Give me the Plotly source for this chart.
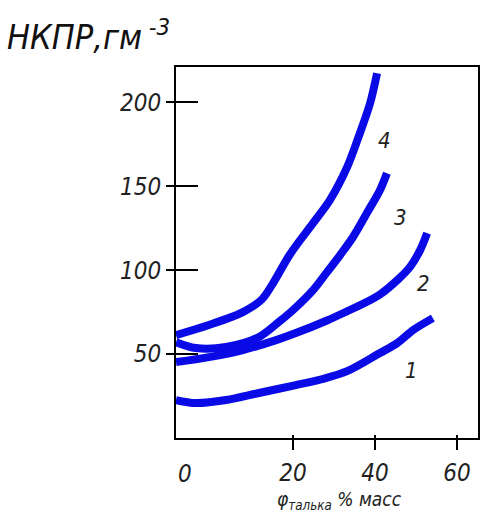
import plotly.graph_objects as go

# Curve data (x = φ талька, % масс ; y = НКПР, г/м3)
c1_x = [-8.5, -3.7, 3.7, 11.7, 20.7, 27.0, 33.2, 41.2, 45.4, 49.3, 54.1]
c1_y = [22.6, 20.8, 22.6, 26.8, 31.5, 35.0, 39.8, 50.6, 56.5, 64.3, 71.4]

c2_x = [-8.5, -0.5, 7.8, 15.9, 20.7, 28.3, 33.2, 38.8, 41.2, 45.4, 48.5, 51.0, 52.7]
c2_y = [45.2, 48.2, 52.4, 58.3, 62.5, 70.0, 75.5, 82.1, 85.5, 94.0, 101.8, 111.9, 122.0]

c3_x = [-8.5, -3.7, 3.7, 11.7, 16.8, 20.0, 24.9, 28.3, 31.5, 34.6, 38.0, 41.2, 42.9]
c3_y = [57.1, 53.6, 54.2, 60.1, 69.6, 76.2, 88.1, 98.8, 109.0, 119.6, 133.9, 147.6, 157.7]

c4_x = [-8.5, -0.5, 7.8, 12.4, 15.1, 19.3, 24.9, 29.0, 33.2, 36.3, 38.8, 40.5]
c4_y = [61.3, 67.3, 75.0, 82.5, 92.0, 109.5, 128.0, 141.7, 161.3, 181.5, 199.4, 217.3]

curve_names = ["1", "2", "3", "4"]
label_x = [49.0, 51.7, 46.1, 42.4]
label_y = [40.5, 92.3, 131.5, 177.0]

x_ticks = [20, 40, 60]
y_ticks = [50, 100, 150, 200]

X_RANGE = [-8.5, 65.1]
Y_RANGE = [0, 221]

FONT = "DejaVu Sans Condensed, DejaVu Sans, sans-serif"
BLUE = "#0a0ae6"

fig = go.Figure()
for xs, ys, name in zip([c1_x, c2_x, c3_x, c4_x], [c1_y, c2_y, c3_y, c4_y], curve_names):
    fig.add_trace(go.Scatter(x=xs, y=ys, mode="lines", name=name,
                             line=dict(color=BLUE, width=8, shape="spline", smoothing=0.9),
                             showlegend=False, hoverinfo="skip"))

# invisible trace for secondary axes
fig.add_trace(go.Scatter(x=[X_RANGE[0]], y=[Y_RANGE[0]], xaxis="x2", yaxis="y2",
                         mode="markers", marker=dict(opacity=0), showlegend=False,
                         hoverinfo="skip"))

for t, lx, ly in zip(curve_names, label_x, label_y):
    fig.add_annotation(x=lx, y=ly, text=t, showarrow=False,
                       font=dict(family=FONT, size=22, color="#222", style="italic"))

# "0" label at the axis origin
fig.add_annotation(x=0, y=0, xref="paper", yref="paper", text="0", showarrow=False,
                   xanchor="left", yanchor="top", yshift=-20,
                   font=dict(family=FONT, size=24, color="#222", style="italic"))

# x-axis title
fig.add_annotation(x=0.543, y=0, xref="paper", yref="paper",
                   text="φ<sub>талька</sub> % масс", showarrow=False,
                   xanchor="center", yanchor="middle", yshift=-62,
                   font=dict(family=FONT, size=19, color="#222", style="italic"))

fig.update_layout(
    width=481, height=517,
    margin=dict(l=176, r=3, t=67, b=79, autoexpand=False),
    paper_bgcolor="white", plot_bgcolor="white",
    title=dict(text="НКПР,гм<sup> -3</sup>", x=7/481, xanchor="left",
               y=1-37/517, yanchor="middle", yref="container",
               font=dict(family=FONT, size=34, color="#111", style="italic")),
    xaxis=dict(range=X_RANGE, tickvals=x_ticks, ticks="outside", ticklen=10,
               tickwidth=2, tickcolor="black", showgrid=False, zeroline=False,
               showline=True, linecolor="black", linewidth=2, mirror=True,
               ticklabelstandoff=2, automargin=False,
               tickfont=dict(family=FONT, size=24, color="#222", style="italic")),
    yaxis=dict(range=Y_RANGE, tickvals=y_ticks, ticks="inside", ticklen=22,
               tickwidth=2, tickcolor="black", showgrid=False, zeroline=False,
               showline=True, linecolor="black", linewidth=2, mirror=True,
               ticklabelstandoff=8, automargin=False,
               tickfont=dict(family=FONT, size=24, color="#222", style="italic")),
    xaxis2=dict(range=X_RANGE, tickvals=x_ticks, ticks="inside", ticklen=3,
                tickwidth=2, tickcolor="black", showticklabels=False,
                showgrid=False, zeroline=False, showline=False, automargin=False,
                overlaying="x", anchor="y2"),
    yaxis2=dict(range=Y_RANGE, tickvals=y_ticks, ticks="outside", ticklen=9,
                tickwidth=2, tickcolor="black", showticklabels=False,
                showgrid=False, zeroline=False, showline=False, automargin=False,
                overlaying="y", anchor="x2", side="left"),
)

fig.write_html("out.html", config={"displayModeBar": False},
               post_script="document.body.style.margin='0';"
                           "document.body.style.overflow='hidden';")
